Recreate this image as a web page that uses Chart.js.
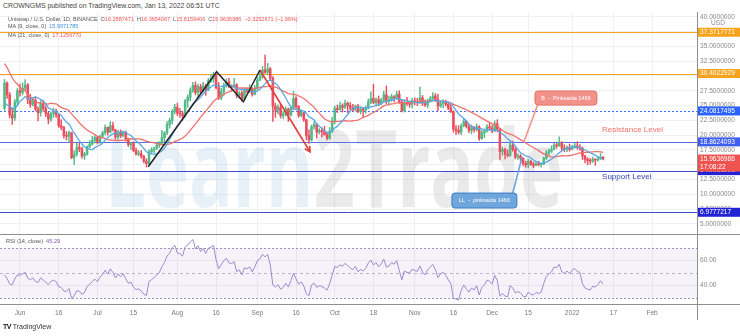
<!DOCTYPE html>
<html>
<head>
<meta charset="utf-8">
<script src="https://cdn.jsdelivr.net/npm/chart.js@4.4.1/dist/chart.umd.min.js"></script>
<style>
  body { margin:0; background:#fff; width:740px; height:336px; overflow:hidden; position:relative; font-family:"Liberation Sans", Arial, sans-serif; }
  canvas { position:absolute; left:0; }
  #mainChart { top:12px; }
  #rsiChart { top:234px; }
  .txt { position:absolute; white-space:nowrap; color:#555; font-size:6.5px; z-index:2; }
  .red { color:#ef5350; }
  .blue { color:#3d8fe0; }
  .purple { color:#7e57c2; }
  .logo { font-weight:bold; color:#131722; font-size:7px; letter-spacing:-0.5px; }
</style>
</head>
<body>
<canvas id="mainChart" width="740" height="222"></canvas>
<canvas id="rsiChart" width="740" height="86"></canvas>

<div class="txt" style="left:3px;top:2px;color:#444;font-size:6.9px">CROWNGMS published on TradingView.com, Jan 13, 2022 06:51 UTC</div>
<div class="txt" style="left:8px;top:16px;font-size:5.5px">Uniswap / U.S. Dollar, 1D, BINANCE &nbsp;O<span class="red">16.2887471</span> &nbsp;H<span class="red">16.3654067</span> &nbsp;L<span class="red">15.8159406</span> &nbsp;C<span class="red">15.9636986</span> &nbsp;<span class="red">−0.3252671 (−1.99%)</span></div>
<div class="txt" style="left:8px;top:23px;font-size:5.5px">MA (9, close, 0) &nbsp;<span class="blue">15.9971785</span></div>
<div class="txt" style="left:8px;top:32px;font-size:5.5px">MA (21, close, 0) &nbsp;<span class="red">17.1256770</span></div>
<div class="txt" style="left:6px;top:238px;font-size:5.6px">RSI (14, close) &nbsp;<span class="purple">45.29</span></div>
<div class="txt" style="left:3px;top:323px;font-size:7px;color:#333"><span class="logo">TV</span> TradingView</div>

<script>
// daily candles, first one is 26 May 2021; x is days counted from 1 Jun 2021
const firstDay = -6;

// closes before the visible range (26 Apr - 25 May 2021), only used to warm up MA / RSI
const priorCloses = [33.0,35.5,34.6,36.0,37.5,38.2,38.0,42.0,39.0,42.5,41.0,41.5,40.6,39.2,37.0,
  38.8,33.6,34.9,37.6,34.8,33.4,31.6,30.5,25.0,27.8,23.8,23.6,20.6,25.0,24.4];

const opens = [
  24.5,28.8,26.8,23.4,22.9,25.6,
  27.5,27.2,27.9,28.5,26.0,25.2,25.9,24.4,23.8,25.4,24.5,23.6,22.7,23.6,23.9,23.4,21.6,21.3,19.9,19.8,20.4,16.2,16.8,17.9,17.7,16.5,16.8,18.1,18.5,19.1,
  19.6,18.9,19.8,20.4,21.3,20.5,21.6,20.9,19.7,20.5,19.9,20.5,19.4,18.4,18.6,17.4,16.8,16.9,16.4,15.6,15.2,17.2,17.5,17.8,18.3,18.6,19.6,20.4,21.8,22.5,24.0,
  24.7,23.7,23.6,23.3,25.8,26.4,27.5,28.4,27.2,28.2,27.4,28.3,27.6,29.2,29.5,30.2,28.0,26.3,27.3,28.4,29.0,28.2,28.1,28.5,26.7,27.1,26.1,27.6,27.4,27.8,26.9,
  27.9,29.3,29.8,31.0,30.6,31.2,29.6,24.9,24.2,24.7,23.3,23.6,24.4,23.4,24.6,26.2,24.8,23.3,23.8,22.6,19.9,19.2,21.4,21.8,20.5,20.8,20.6,20.1,19.5,20.6,
  22.4,24.5,24.3,25.0,24.7,25.4,25.0,24.6,24.3,24.9,24.0,24.4,24.2,24.6,25.6,26.2,25.5,26.0,25.4,25.9,26.8,25.7,25.9,26.5,26.3,26.9,25.6,24.1,25.5,25.3,25.2,
  25.8,25.6,25.5,26.3,25.5,25.1,25.8,26.2,26.6,26.0,24.9,25.4,25.6,25.2,24.6,24.0,21.0,20.8,20.5,21.6,22.3,21.5,20.8,21.3,20.9,21.4,19.4,20.4,20.7,21.4,
  21.2,20.7,21.9,21.0,17.2,17.6,16.8,16.6,18.3,17.6,16.3,16.5,16.1,15.2,15.0,15.6,15.1,14.9,15.2,15.0,15.1,16.1,17.0,17.3,17.6,18.3,18.2,18.7,17.8,17.6,17.9,
  17.6,18.0,18.2,17.9,17.8,16.5,15.9,15.7,15.6,15.9,15.8,16.0,16.2887471
];
const highs = [
  29.4,29.0,27.2,24.6,26.0,27.9,
  28.6,28.8,29.4,28.7,26.9,26.4,26.5,24.8,25.8,25.9,24.9,23.9,23.9,24.6,24.4,23.6,22.6,21.5,20.6,20.7,20.5,17.4,18.6,18.6,18.0,17.1,18.2,19.1,19.8,19.9,
  19.8,20.0,20.7,21.7,21.4,22.3,22.2,21.0,20.8,20.9,20.7,20.7,19.5,18.8,18.9,17.8,17.4,17.4,16.6,16.0,17.5,17.9,18.0,18.7,18.9,20.8,20.6,22.3,22.9,24.3,25.2,
  25.4,24.5,24.0,26.0,26.8,28.0,28.9,29.0,28.6,28.6,28.9,28.6,29.6,30.2,30.6,30.4,28.9,27.9,28.8,29.5,29.6,28.5,29.6,28.7,27.4,27.5,27.8,28.0,28.5,28.0,28.4,
  29.8,30.9,31.6,33.5,32.1,31.4,29.9,25.4,25.1,25.2,24.0,24.8,24.6,24.9,27.4,26.5,25.0,24.3,23.9,22.7,20.9,21.7,22.3,22.0,21.1,21.2,21.5,20.4,21.3,23.0,
  24.9,25.1,25.6,25.3,25.9,25.6,25.5,25.2,25.1,25.2,24.8,24.6,24.9,26.1,27.3,28.6,26.3,26.6,26.2,27.4,28.3,26.6,26.9,26.7,27.4,27.5,26.0,26.0,26.4,25.8,26.2,
  26.3,26.2,28.1,26.7,25.9,26.1,26.5,27.2,27.0,26.9,25.8,26.0,25.9,25.5,25.4,24.1,21.6,21.6,21.9,22.7,22.5,21.8,21.7,21.5,21.9,21.6,20.8,20.9,21.8,22.2,
  21.7,22.4,22.6,21.1,18.0,17.8,17.5,18.6,19.0,17.9,16.9,16.7,16.2,15.6,15.9,15.8,15.4,15.5,15.6,15.3,16.3,17.4,17.7,18.2,18.6,18.6,19.7,18.9,18.4,18.2,18.5,
  18.3,18.6,18.9,18.4,18.0,16.6,16.2,16.1,16.3,16.0,16.4,16.9,16.3654067
];
const lows = [
  24.2,26.2,22.9,21.8,22.5,25.0,
  26.6,26.8,27.5,25.3,24.7,24.9,24.1,22.4,23.2,24.0,23.1,21.9,22.3,23.0,23.0,21.3,20.9,19.5,19.2,18.8,16.0,15.0,16.5,17.2,16.1,15.9,16.6,17.9,18.3,18.7,
  18.5,18.6,19.6,20.1,20.0,20.4,20.7,19.3,19.3,19.6,19.7,19.0,18.1,17.6,17.2,16.6,16.5,16.1,15.3,14.6,15.0,16.9,17.0,17.6,17.9,18.4,18.8,20.1,21.2,21.9,23.6,
  23.3,23.0,22.5,23.0,24.7,25.8,27.2,26.8,26.5,27.0,27.3,26.7,27.5,28.9,28.9,27.8,26.0,26.0,26.7,28.1,28.0,27.4,28.0,26.3,26.2,25.7,25.9,27.1,27.2,26.6,26.8,
  27.6,29.2,29.6,30.4,30.2,29.2,22.3,23.0,23.6,22.9,22.8,23.2,22.3,23.2,24.3,24.5,23.0,23.1,22.3,19.2,18.6,19.0,21.0,19.5,20.2,19.7,20.0,19.2,19.3,20.4,
  21.9,23.8,24.2,23.9,24.5,23.8,24.2,24.0,24.1,23.8,23.6,23.0,23.7,24.4,25.3,25.3,24.9,25.0,25.1,25.6,25.3,25.2,25.7,25.6,26.1,25.4,23.9,23.9,25.0,24.7,24.6,
  25.1,25.0,25.4,25.0,24.8,24.6,25.6,25.9,25.7,24.1,24.7,24.6,24.9,24.3,23.8,20.5,20.1,20.2,20.1,21.4,21.2,20.4,20.2,20.5,20.7,19.1,19.3,19.6,20.5,20.9,
  20.4,20.6,20.6,15.9,16.6,16.0,16.3,16.4,17.3,16.0,15.9,15.6,14.8,14.6,14.5,14.9,14.5,14.8,14.8,14.6,15.0,15.9,16.6,17.1,17.5,17.8,18.1,17.4,17.2,17.2,17.3,
  17.5,17.8,17.6,17.4,15.9,15.3,15.0,15.1,15.4,14.9,15.6,15.9,15.8159406
];
const closes = [
  28.8,26.8,23.4,22.9,25.6,27.5,
  27.2,27.9,28.5,26.0,25.2,25.9,24.4,23.8,25.4,24.5,23.6,22.7,23.6,23.9,23.4,21.6,21.3,19.9,19.8,20.4,16.2,16.8,17.9,17.7,16.5,16.8,18.1,18.5,19.1,19.6,
  18.9,19.8,20.4,21.3,20.5,21.6,20.9,19.7,20.5,19.9,20.5,19.4,18.4,18.6,17.4,16.8,16.9,16.4,15.6,15.2,17.2,17.5,17.8,18.3,18.6,19.6,20.4,21.8,22.5,24.0,24.7,
  23.7,23.6,23.3,25.8,26.4,27.5,28.4,27.2,28.2,27.4,28.3,27.6,29.2,29.5,30.2,28.0,26.3,27.3,28.4,29.0,28.2,28.1,28.5,26.7,27.1,26.1,27.6,27.4,27.8,26.9,27.9,
  29.3,29.8,31.0,30.6,31.2,29.6,24.9,24.2,24.7,23.3,23.6,24.4,23.4,24.6,26.2,24.8,23.3,23.8,22.6,19.9,19.2,21.4,21.8,20.5,20.8,20.6,20.1,19.5,20.6,22.4,
  24.5,24.3,25.0,24.7,25.4,25.0,24.6,24.3,24.9,24.0,24.4,24.2,24.6,25.6,26.2,25.5,26.0,25.4,25.9,26.8,25.7,25.9,26.5,26.3,26.9,25.6,24.1,25.5,25.3,25.2,25.8,
  25.6,25.5,26.3,25.5,25.1,25.8,26.2,26.6,26.0,24.9,25.4,25.6,25.2,24.6,24.0,21.0,20.8,20.5,21.6,22.3,21.5,20.8,21.3,20.9,21.4,19.4,20.4,20.7,21.4,21.2,
  20.7,21.9,21.0,17.2,17.6,16.8,16.6,18.3,17.6,16.3,16.5,16.1,15.2,15.0,15.6,15.1,14.9,15.2,15.0,15.1,16.1,17.0,17.3,17.6,18.3,18.2,18.7,17.8,17.6,17.9,17.6,
  18.0,18.2,17.9,17.8,16.5,15.9,15.7,15.6,15.9,15.8,16.0,16.2887471,15.9636986
];

// axes
const timeTicks  = [0, 15, 30, 44, 61, 76, 92, 107, 122, 137, 153, 168, 183, 197, 214, 230, 245];
const timeLabels = ['Jun','16','Jul','15','Aug','16','Sep','16','Oct','18','Nov','16','Dec','15','2022','17','Feb'];
const priceTicks = [5, 7.5, 10, 12.5, 15, 17.5, 20, 22.5, 25, 27.5, 30, 32.5, 35, 37.5, 40];
const rsiTicks   = [40, 60];

// horizontal levels drawn on the chart + their axis tags
const levelPrices = [37.3717771, 30.4022929, 24.0817495, 18.8624093, 14.0086291, 6.9777217];
const lastPrice = 15.9636986;
const countdown = '17:08:22';

// hand drawings (day, price)
const zigzagDays   = [49.7, 76.2, 86.6, 93.0];
const zigzagPrices = [14.66, 30.71, 25.64, 31.0];
const arrowDays    = [93.0, 112.4];
const arrowPrices  = [31.0, 17.2];

const X_MIN = -7.75, X_MAX = 262.4;
const UP = '#53b987', DOWN = '#eb4d5c', GRID = '#eef0f4';
const tagColors  = ['#f7a21b', '#f7a21b', '#2962ff', '#3f5ff0', '#2323d4', '#2323d4'];
const lineColors = ['#f7a21b', '#f7a21b', '#3a6df0', '#5a70e0', '#4048d2', '#4048d2'];
const levelDash = [[], [], [2, 2], [], [], []];
const FONT = '"Liberation Sans", Arial, sans-serif';

function sma(src, n){
  return src.map((v, i) => {
    if(i < n - 1) return null;
    let s = 0;
    for(let k = i - n + 1; k <= i; k++) s += src[k];
    return s / n;
  });
}

function rsi(src, n){
  const out = src.map(() => null);
  let g = 0, l = 0;
  for(let i = 1; i < src.length; i++){
    const ch = src[i] - src[i-1];
    const up = Math.max(ch, 0), dn = Math.max(-ch, 0);
    if(i <= n){
      g += up; l += dn;
      if(i === n){ g /= n; l /= n; out[i] = 100 - 100 / (1 + g / l); }
    } else {
      g = (g * (n - 1) + up) / n;
      l = (l * (n - 1) + dn) / n;
      out[i] = l === 0 ? 100 : 100 - 100 / (1 + g / l);
    }
  }
  return out;
}

const allCloses = priorCloses.concat(closes);
const skip = priorCloses.length;
const ma9 = sma(allCloses, 9).slice(skip);
const ma21 = sma(allCloses, 21).slice(skip);
const rsi14 = rsi(allCloses, 14).slice(skip);

const dayOf = i => firstDay + i;
const candleColors = closes.map((c, i) => c >= opens[i] ? UP : DOWN);
const wicks = closes.map((c, i) => ({x: dayOf(i), y: [lows[i], highs[i]]}));
const bodies = closes.map((c, i) => ({x: dayOf(i), y: [opens[i], c]}));
const pts = arr => arr.map((v, i) => ({x: dayOf(i), y: v}));

// no label overflow padding: plot area must fill the canvas exactly
function noPad(s){ s.paddingTop = 0; s.paddingBottom = 0; s.paddingLeft = 0; s.paddingRight = 0; }
function fitRight(s){ s.width = 43; noPad(s); }

// ---------- main pane drawings ----------
const mainDrawings = {
  id: 'mainDrawings',
  beforeDatasetsDraw(chart){
    const {ctx, chartArea: a, scales: {x, y}} = chart;
    ctx.save();
    // watermark
    ctx.font = 'bold 108px "Open Sans", Arial, sans-serif';
    const w1 = ctx.measureText('Learn').width, w2 = ctx.measureText('2Trade').width;
    const sx = 458 / (w1 + w2);
    ctx.translate(105, 195);
    ctx.scale(sx, 1);
    ctx.fillStyle = 'rgba(150,190,225,0.22)';
    ctx.fillText('Learn', 0, 0);
    ctx.fillStyle = 'rgba(160,160,160,0.22)';
    ctx.fillText('2Trade', w1, 0);
    ctx.restore();

    // horizontal levels
    ctx.save();
    levelPrices.forEach((p, i) => {
      const py = Math.round(y.getPixelForValue(p)) + 0.5;
      ctx.strokeStyle = lineColors[i];
      ctx.lineWidth = 1;
      ctx.setLineDash(levelDash[i]);
      ctx.beginPath(); ctx.moveTo(a.left, py); ctx.lineTo(a.right, py); ctx.stroke();
    });
    ctx.restore();
  },
  afterDatasetsDraw(chart){
    const {ctx, chartArea: a, scales: {x, y}} = chart;
    ctx.save();
    // arrow head
    const x0 = x.getPixelForValue(arrowDays[0]), y0 = y.getPixelForValue(arrowPrices[0]);
    const x1 = x.getPixelForValue(arrowDays[1]), y1 = y.getPixelForValue(arrowPrices[1]);
    const ang = Math.atan2(y1 - y0, x1 - x0);
    ctx.strokeStyle = '#e0403a'; ctx.lineWidth = 1.6;
    ctx.beginPath();
    ctx.moveTo(x1 - 6 * Math.cos(ang - 0.5), y1 - 6 * Math.sin(ang - 0.5));
    ctx.lineTo(x1, y1);
    ctx.lineTo(x1 - 6 * Math.cos(ang + 0.5), y1 - 6 * Math.sin(ang + 0.5));
    ctx.stroke();

    // callouts
    const callout = (d0, d1, p0, p1, tailFrom, tailTo, fill, stroke, text) => {
      const bx = x.getPixelForValue(d0), bw = x.getPixelForValue(d1) - bx;
      const by = y.getPixelForValue(p0), bh = y.getPixelForValue(p1) - by;
      ctx.strokeStyle = fill; ctx.lineWidth = 1.6;
      ctx.beginPath();
      ctx.moveTo(x.getPixelForValue(tailFrom[0]), y.getPixelForValue(tailFrom[1]));
      ctx.lineTo(x.getPixelForValue(tailTo[0]), y.getPixelForValue(tailTo[1]));
      ctx.stroke();
      ctx.beginPath();
      ctx.roundRect(bx, by, bw, bh, 3);
      ctx.fillStyle = fill; ctx.fill();
      ctx.strokeStyle = stroke; ctx.lineWidth = 1; ctx.stroke();
      ctx.fillStyle = '#fff';
      ctx.font = '5.5px ' + FONT;
      ctx.textAlign = 'center'; ctx.textBaseline = 'middle';
      ctx.fillText(text, bx + bw / 2, by + bh / 2);
    };
    callout(199.6, 223.6, 27.45, 25.08, [200.6, 25.08], [195.3, 18.83], '#f3928b', '#e8716a', 'B  -  Pinksaida 1466');
    callout(167.4, 192.6, 10.22, 7.69, [191.0, 10.22], [194.6, 16.3], '#6fa6dc', '#3c7fc4', 'LL  -  pinksaida 1466');

    ctx.textAlign = 'left'; ctx.textBaseline = 'middle';
    ctx.font = '8px ' + FONT;
    ctx.fillStyle = '#f07068';
    ctx.fillText('Resistance Level', x.getPixelForValue(225.6), y.getPixelForValue(20.86));
    ctx.fillStyle = '#3346b8';
    ctx.fillText('Support Level', x.getPixelForValue(225.6), y.getPixelForValue(12.92));
    ctx.restore();
  },
  afterDraw(chart){
    const {ctx, chartArea: a, scales: {y}} = chart;
    ctx.save();
    ctx.font = '6.6px ' + FONT;
    ctx.textBaseline = 'middle'; ctx.textAlign = 'left';
    const tag = (p, bg, lines) => {
      const py = y.getPixelForValue(p);
      ctx.fillStyle = bg;
      ctx.fillRect(a.right, py - 4.5, chart.width - a.right, 9 + (lines.length - 1) * 8);
      ctx.fillStyle = '#fff';
      lines.forEach((t, k) => ctx.fillText(t, a.right + 3, py + k * 8));
    };
    levelPrices.forEach((p, i) => tag(p, tagColors[i], [p.toFixed(7)]));
    tag(lastPrice, '#ef5350', [lastPrice.toFixed(7), countdown]);
    ctx.fillStyle = '#8a8a8a';
    ctx.fillText('USD', a.right + 14, y.getPixelForValue(40) + 6);
    // pane border
    ctx.strokeStyle = '#8f8f8f'; ctx.lineWidth = 1;
    ctx.beginPath(); ctx.moveTo(a.right + 0.5, 0); ctx.lineTo(a.right + 0.5, chart.height); ctx.stroke();
    ctx.restore();
  }
};

new Chart(document.getElementById('mainChart'), {
  type: 'bar',
  data: {
    datasets: [
      {type: 'line', data: zigzagDays.map((d, i) => ({x: d, y: zigzagPrices[i]})), borderColor: '#262626', borderWidth: 1.5, pointRadius: 0, order: -2},
      {type: 'line', data: arrowDays.map((d, i) => ({x: d, y: arrowPrices[i]})), borderColor: '#e0403a', borderWidth: 1.6, pointRadius: 0, order: -2},
      {type: 'line', data: pts(ma9), borderColor: '#5aa6e6', borderWidth: 1.3, pointRadius: 0, order: 0},
      {type: 'line', data: pts(ma21), borderColor: '#ee716c', borderWidth: 1.3, pointRadius: 0, order: 0},
      {data: bodies, backgroundColor: candleColors, barThickness: 1.9, minBarLength: 1, grouped: false, order: 1},
      {data: wicks, backgroundColor: candleColors, barThickness: 0.8, grouped: false, order: 2}
    ]
  },
  options: {
    responsive: false, animation: false, events: [],
    layout: {padding: 0, autoPadding: false},
    plugins: {legend: {display: false}, tooltip: {enabled: false}},
    scales: {
      x: {
        type: 'linear', min: X_MIN, max: X_MAX, offset: false,
        grid: {color: GRID, drawTicks: false, offset: false}, border: {display: false},
        ticks: {display: false},
        afterBuildTicks: s => { s.ticks = timeTicks.map(v => ({value: v})); },
        afterFit: s => { s.height = 0; noPad(s); }
      },
      y: {
        position: 'right', min: 3.31, max: 40.79,
        grid: {color: GRID, drawTicks: false}, border: {display: false},
        ticks: {padding: 3, color: '#8a8a8a', font: {size: 6.6, family: FONT}, callback: v => v.toFixed(7)},
        afterBuildTicks: s => { s.ticks = priceTicks.map(v => ({value: v})); },
        afterFit: fitRight
      }
    }
  },
  plugins: [mainDrawings]
});

// ---------- RSI pane ----------
const rsiDrawings = {
  id: 'rsiDrawings',
  beforeDatasetsDraw(chart){
    const {ctx, chartArea: a, scales: {y}} = chart;
    ctx.save();
    const y70 = y.getPixelForValue(70), y30 = y.getPixelForValue(30);
    ctx.fillStyle = 'rgba(126,87,194,0.08)';
    ctx.fillRect(a.left, y70, a.right - a.left, y30 - y70);
    [70, 50, 30].forEach(v => {
      const py = Math.round(y.getPixelForValue(v)) + 0.5;
      ctx.strokeStyle = v === 50 ? 'rgba(150,140,180,0.6)' : 'rgba(140,130,175,0.85)';
      ctx.setLineDash(v === 50 ? [3, 3] : [2, 2]);
      ctx.beginPath(); ctx.moveTo(a.left, py); ctx.lineTo(a.right, py); ctx.stroke();
    });
    ctx.restore();
  },
  afterDraw(chart){
    const {ctx, chartArea: a} = chart;
    ctx.save();
    ctx.strokeStyle = '#8f8f8f'; ctx.lineWidth = 1;
    ctx.beginPath();
    ctx.moveTo(0, 0.5); ctx.lineTo(chart.width, 0.5);
    ctx.moveTo(0, Math.round(a.bottom) + 0.5); ctx.lineTo(chart.width, Math.round(a.bottom) + 0.5);
    ctx.moveTo(a.right + 0.5, 0); ctx.lineTo(a.right + 0.5, chart.height);
    ctx.stroke();
    ctx.restore();
  }
};

new Chart(document.getElementById('rsiChart'), {
  type: 'line',
  data: {
    datasets: [
      {data: pts(rsi14), borderColor: '#9a8ccc', borderWidth: 1, pointRadius: 0}
    ]
  },
  options: {
    responsive: false, animation: false, events: [],
    layout: {padding: 0, autoPadding: false},
    plugins: {legend: {display: false}, tooltip: {enabled: false}},
    scales: {
      x: {
        type: 'linear', min: X_MIN, max: X_MAX,
        grid: {color: GRID, drawTicks: false}, border: {display: false},
        ticks: {autoSkip: false, maxRotation: 0, padding: 5, color: '#7a7a7a', font: {size: 6.6, family: FONT},
                callback: v => timeLabels[timeTicks.indexOf(v)]},
        afterBuildTicks: s => { s.ticks = timeTicks.map(v => ({value: v})); },
        afterFit: s => { s.height = 16; noPad(s); }
      },
      y: {
        position: 'right', min: 25.2, max: 81.2,
        grid: {color: GRID, drawTicks: false}, border: {display: false},
        ticks: {padding: 3, color: '#8a8a8a', font: {size: 6.6, family: FONT}, callback: v => v.toFixed(2)},
        afterBuildTicks: s => { s.ticks = rsiTicks.map(v => ({value: v})); },
        afterFit: fitRight
      }
    }
  },
  plugins: [rsiDrawings]
});
</script>
</body>
</html>
